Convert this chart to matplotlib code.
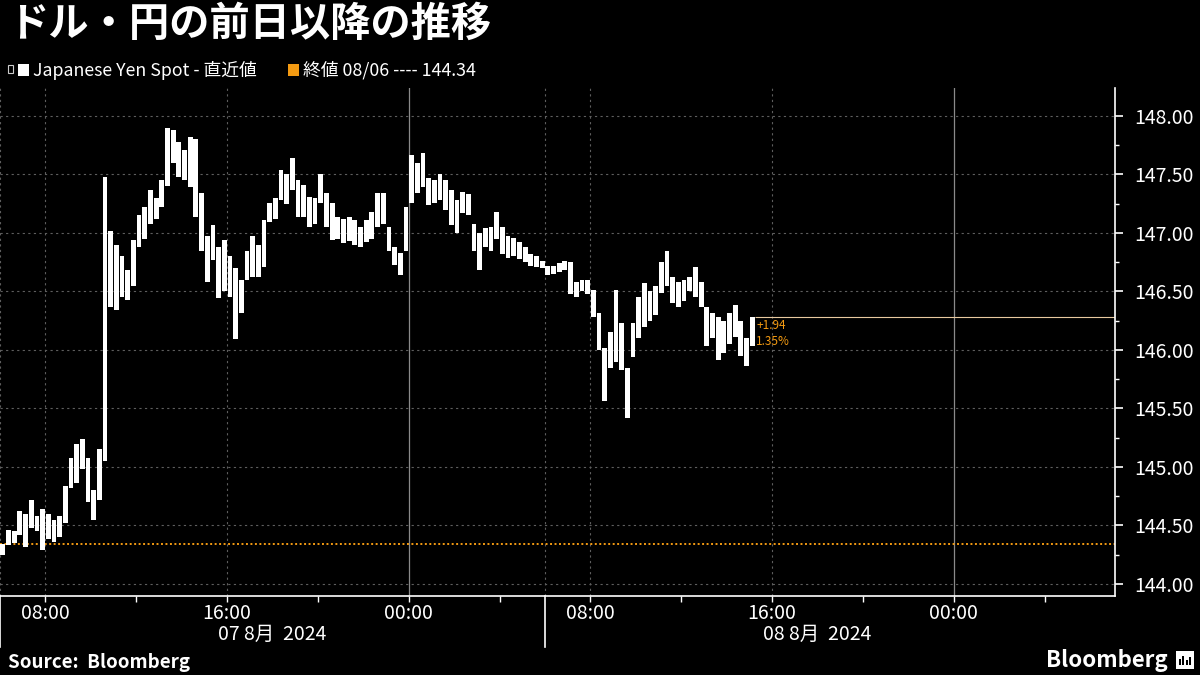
import numpy as np
import matplotlib
matplotlib.use("Agg")
import matplotlib.pyplot as plt
from matplotlib.transforms import blended_transform_factory
from matplotlib.patches import Rectangle

plt.rcParams['font.family'] = ['Noto Sans CJK JP', 'DejaVu Sans']

# 15-minute bars, first bar starts 06:00 on 07 Aug (x axis = hours since then)
bar_lows = [
    144.25, 144.33, 144.35, 144.42, 144.32, 144.48, 144.45, 144.29, 144.38, 144.36,
    144.40, 144.52, 144.82, 144.86, 144.98, 144.70, 144.55, 144.72, 145.05, 146.37,
    146.34, 146.45, 146.43, 146.55, 146.88, 146.95, 147.08, 147.12, 147.22, 147.40,
    147.60, 147.48, 147.45, 147.39, 147.14, 146.85, 146.58, 146.77, 146.44, 146.50,
    146.45, 146.09, 146.32, 146.60, 146.62, 146.62, 146.71, 147.09, 147.12, 147.28,
    147.25, 147.37, 147.14, 147.14, 147.05, 147.08, 147.26, 147.05, 146.94, 146.95,
    146.91, 146.93, 146.90, 146.88, 146.92, 146.95, 147.05, 147.08, 146.85, 146.73,
    146.64, 146.85, 147.26, 147.34, 147.39, 147.24, 147.26, 147.28, 147.20, 147.07,
    147.00, 147.17, 147.15, 146.85, 146.68, 146.88, 146.85, 146.95, 146.82, 146.79,
    146.80, 146.78, 146.75, 146.72, 146.71, 146.70, 146.64, 146.65, 146.67, 146.68,
    146.48, 146.45, 146.50, 146.48, 146.28, 146.00, 145.56, 145.85, 145.90, 145.83,
    145.42, 145.94, 146.10, 146.20, 146.25, 146.30, 146.49, 146.55, 146.40, 146.37,
    146.42, 146.50, 146.45, 146.37, 146.03, 146.10, 145.91, 145.97, 146.05, 146.11,
    145.95, 145.86, 146.03,
]
bar_highs = [
    144.34, 144.46, 144.45, 144.62, 144.60, 144.72, 144.58, 144.64, 144.60, 144.55,
    144.58, 144.84, 145.08, 145.20, 145.24, 145.08, 144.80, 145.15, 147.48, 147.02,
    146.90, 146.80, 146.68, 146.94, 147.15, 147.22, 147.37, 147.30, 147.45, 147.90,
    147.88, 147.78, 147.71, 147.82, 147.80, 147.34, 146.97, 147.07, 146.88, 146.94,
    146.80, 146.70, 146.60, 146.85, 146.97, 146.90, 147.11, 147.26, 147.30, 147.54,
    147.50, 147.64, 147.45, 147.41, 147.31, 147.30, 147.50, 147.34, 147.26, 147.14,
    147.12, 147.14, 147.11, 147.05, 147.11, 147.18, 147.34, 147.34, 147.05, 146.88,
    146.83, 147.22, 147.67, 147.60, 147.68, 147.47, 147.45, 147.50, 147.45, 147.37,
    147.28, 147.35, 147.33, 147.08, 147.00, 147.04, 147.05, 147.18, 147.05, 146.97,
    146.96, 146.92, 146.88, 146.82, 146.80, 146.76, 146.72, 146.72, 146.74, 146.76,
    146.75, 146.58, 146.60, 146.60, 146.51, 146.32, 146.02, 146.15, 146.51, 146.23,
    145.85, 146.23, 146.45, 146.57, 146.50, 146.55, 146.75, 146.85, 146.62, 146.58,
    146.60, 146.62, 146.71, 146.58, 146.37, 146.32, 146.28, 146.25, 146.32, 146.38,
    146.25, 146.10, 146.28,
]
bar_step = 0.25
prev_close = 144.34
last_price = 146.28
change_text = "+1.94"
change_pct_text = "1.35%"

time_ticks = [2, 10, 18, 26, 34, 42]
time_labels = ["08:00", "16:00", "00:00", "08:00", "16:00", "00:00"]
minor_time_ticks = [6, 14, 22, 30, 38, 46]
midnights = [18, 42]
day_starts = [0, 24]
day_centers = [12, 36]
day_labels = ["07 8月  2024", "08 8月  2024"]
price_ticks = [144.0, 144.5, 145.0, 145.5, 146.0, 146.5, 147.0, 147.5, 148.0]

ORANGE = "#f39a12"
GRID = "#5e5e5e"

fig = plt.figure(figsize=(12, 6.75), dpi=100, facecolor="black")
ax = fig.add_axes([0, 1 - 596 / 675, 1115 / 1200, (596 - 88) / 675])
ax.set_facecolor("black")

lows = np.array(bar_lows)
highs = np.array(bar_highs)
times = np.arange(len(lows)) * bar_step + bar_step / 2

ax.set_xlim(0, 49.1)
ax.set_ylim(143.897, 148.239)

# grid
for p in price_ticks:
    ax.axhline(p, color=GRID, lw=0.8, ls=(0, (2, 3)), zorder=0)
for t in day_starts + time_ticks:
    if t not in midnights:
        ax.axvline(t, color=GRID, lw=0.8, ls=(0, (2, 3)), zorder=0)
for t in midnights:
    ax.axvline(t, color="#8a8a8a", lw=0.9, zorder=0)

# previous close line
ax.axhline(prev_close, color=ORANGE, lw=1.4, ls=(0, (1, 1.3)), zorder=1)

# bars
ax.bar(times, highs - lows, bottom=lows, width=0.21, color="white", lw=0, zorder=3)

# last price marker
last_t = len(lows) * bar_step
ax.hlines(last_price, last_t, 49.1, color="#e8c9a0", lw=0.8, zorder=2)
ax.text(last_t + 0.05, 146.21, change_text, color=ORANGE, fontsize=8.5, va="center", ha="left")
ax.text(last_t + 0.05, 146.07, change_pct_text, color=ORANGE, fontsize=8.5, va="center", ha="left")

# axes styling
for side in ["top", "left"]:
    ax.spines[side].set_visible(False)
ax.spines["right"].set_color("white")
ax.spines["bottom"].set_color("white")
ax.spines["right"].set_linewidth(1.2)
ax.spines["bottom"].set_linewidth(1.2)

ax.yaxis.tick_right()
ax.set_yticks(price_ticks)
ax.set_yticklabels([f"{p:.2f}" for p in price_ticks])
ax.set_yticks(np.arange(144.25, 148.0, 0.5), minor=True)
ax.tick_params(axis="y", which="major", colors="white", labelsize=14, length=6, width=1.2, pad=8)
ax.tick_params(axis="y", which="minor", colors="white", length=3, width=1)

ax.set_xticks(time_ticks)
ax.set_xticklabels(time_labels)
ax.set_xticks(minor_time_ticks, minor=True)
ax.tick_params(axis="x", which="major", colors="white", labelsize=14, length=4, width=1, pad=1)
ax.tick_params(axis="x", which="minor", colors="white", length=4, width=1)

trans = blended_transform_factory(ax.transData, ax.transAxes)
for t in day_starts:
    ax.plot([t, t], [0, -51 / 508], color="white", lw=1.2, transform=trans, clip_on=False)
for c, lab in zip(day_centers, day_labels):
    ax.text(c, -38 / 508, lab, color="white", fontsize=14, ha="center", va="center", transform=trans)

# title and legend
fig.text(8 / 1200, 1 - 24 / 675, "ドル・円の前日以降の推移", color="white", fontsize=29,
         fontweight="bold", va="center", ha="left")
ly = 1 - 70 / 675
fig.add_artist(Rectangle((8 / 1200, ly - 3 / 675), 5 / 1200, 8 / 675, transform=fig.transFigure,
                         fill=False, edgecolor="#cccccc", lw=0.8))
fig.add_artist(Rectangle((18 / 1200, ly - 6 / 675), 11 / 1200, 12 / 675, transform=fig.transFigure,
                         color="white", lw=0))
fig.text(33 / 1200, ly, "Japanese Yen Spot - 直近値", color="white", fontsize=12.8, va="center", ha="left")
fig.add_artist(Rectangle((288 / 1200, ly - 6 / 675), 11 / 1200, 12 / 675, transform=fig.transFigure,
                         color=ORANGE, lw=0))
fig.text(303 / 1200, ly, f"終値 08/06 ---- {prev_close:.2f}", color="white", fontsize=12.8,
         va="center", ha="left")

# footer
fig.text(8 / 1200, 1 - 662 / 675, "Source:  Bloomberg", color="white", fontsize=13.5,
         fontweight="bold", va="center", ha="left")
fig.text(1168 / 1200, 1 - 660 / 675, "Bloomberg", color="white", fontsize=16,
         fontweight="bold", va="center", ha="right")
fig.add_artist(Rectangle((1176 / 1200, 1 - 669 / 675), 18 / 1200, 18 / 675, transform=fig.transFigure,
                         color="white", lw=0))
for i, h in enumerate([6, 9, 5, 8]):
    fig.add_artist(Rectangle(((1179 + i * 3.3) / 1200, 1 - 665 / 675), 2 / 1200, h / 675,
                             transform=fig.transFigure, color="black", lw=0))

fig.savefig("out.png", dpi=100, facecolor="black")
